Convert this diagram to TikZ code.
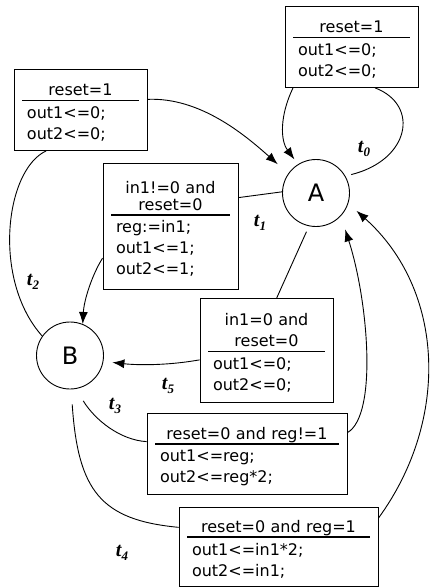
\documentclass[tikz,border=0pt]{standalone}
\usepackage{fontspec}
\usepackage{tikz}
\usetikzlibrary{arrows.meta}

\newfontfamily\gfont{DejaVu Sans}
\newfontfamily\tfont{Liberation Serif}

% guard over a rule, actions below
\newcommand{\guard}[2]{{\centering\rule{0pt}{17pt}#1\par}\kern-\prevdepth\kern4pt\hrule height 1.6pt\kern5pt\leftskip=5pt\relax #2\par}
\newcommand{\tlab}[1]{{\tfont\fontsize{20}{20}\selectfont\bfseries\itshape t\raisebox{-4pt}{\fontsize{13}{13}\selectfont #1}}}

\begin{document}
\begin{tikzpicture}[x=1pt,y=-1pt,line width=0.9pt,
  statenode/.style={shape=circle,draw=black,minimum size=67pt,inner sep=0pt,font=\gfont\fontsize{24}{24}\selectfont},
  guardbox/.style={shape=rectangle,draw=black,anchor=north,inner xsep=8pt,inner ysep=8pt,align=left,font=\gfont\fontsize{16}{21}\selectfont},
  tlabel/.style={inner sep=0pt},
  >={Latex[length=12pt,width=9pt]}]

\useasboundingbox (0,0) rectangle (430,587);

\node[statenode] (A) at (316,193) {A};
\node[statenode] (B) at (70,355.5) {B};

\node[guardbox,text width=117pt,minimum height=81pt] (T0) at (351.5,6) {\guard{reset=1}{out1<=0;\\out2<=0;}};
\node[guardbox,text width=117pt,minimum height=81pt] (T2) at (80.5,69) {\guard{reset=1}{out1<=0;\\out2<=0;}};
\node[guardbox,text width=119pt,minimum height=126pt] (T1) at (170.5,163) {\guard{in1!=0 and\\[-4pt]reset=0}{reg:=in1;\\out1<=1;\\out2<=1;}};
\node[guardbox,text width=117pt,minimum height=104pt] (T5) at (266.5,298) {\guard{in1=0 and\\reset=0}{out1<=0;\\out2<=0;}};
\node[guardbox,text width=184pt,minimum height=81pt] (T3) at (247,413) {\guard{reset=0 and reg!=1}{out1<=reg;\\out2<=reg*2;}};
\node[guardbox,text width=183pt,minimum height=78pt] (T4) at (278.5,507) {\guard{reset=0 and reg=1}{out1<=in1*2;\\out2<=in1;}};

\node[tlabel] (L0) at (364,149) {\tlab{0}};
\node[tlabel] (L1) at (260,223) {\tlab{1}};
\node[tlabel] (L2) at (33,282) {\tlab{2}};
\node[tlabel] (L3) at (115,406) {\tlab{3}};
\node[tlabel] (L4) at (122,553) {\tlab{4}};
\node[tlabel] (L5) at (168,386) {\tlab{5}};

% t0
\draw[shorten <=6pt] (A.30) .. controls (410,160) and (420,105) .. (T0.-60);
\draw[->,shorten >=6pt] (T0.-145) .. controls (280,115) and (280,140) .. (A.122);
% t1
\draw (A.178) -- (T1.23);
\draw[->] (T1.205) .. controls (92,275) and (84,300) .. (B.68);
% t2
\draw (B.145) .. controls (-8,280) and (5,170) .. (T2.230);
\draw[->,shorten >=14pt] (T2.9) .. controls (200,97) and (245,135) .. (A.145);
% t3
\draw[shorten <=14pt] (B.-80) .. controls (95,420) and (120,440) .. (T3.173);
\draw[->,shorten >=14pt] (T3.12) .. controls (378,415) and (368,300) .. (A.-43);
% t4
\draw[shorten <=15pt] (B.-88) .. controls (78,490) and (100,520) .. (T4.169);
\draw[->,shorten >=11pt] (T4.16) .. controls (450,420) and (445,290) .. (A.-18);
% t5
\draw[shorten <=6pt] (A.258) -- (T5.79);
\draw[->,shorten >=9pt] (T5.188) .. controls (165,366) and (135,365) .. (B.-10);

\end{tikzpicture}
\end{document}
